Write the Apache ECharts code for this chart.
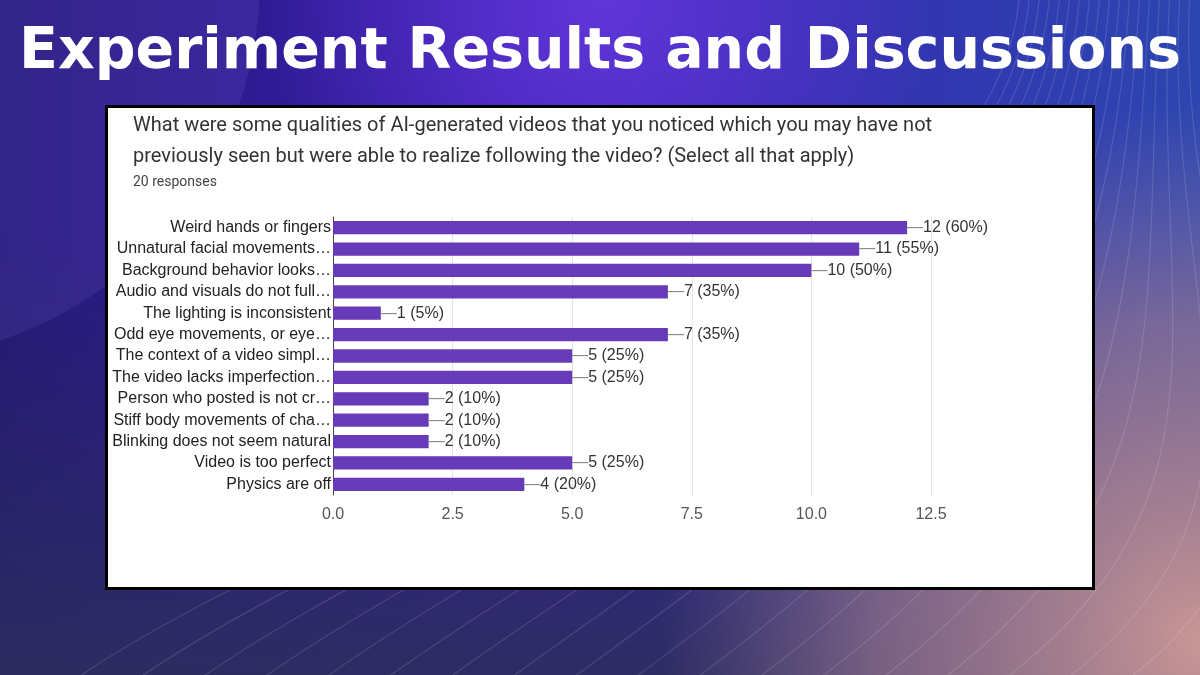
<!DOCTYPE html>
<html>
<head>
<meta charset="utf-8">
<script src="https://cdn.jsdelivr.net/npm/echarts@6/dist/echarts.min.js"></script>
<style>
  html, body { margin: 0; padding: 0; background: #2a1f88; }
  #main { width: 1200px; height: 675px; }
</style>
</head>
<body>
<div id="main"></div>
<script>
// survey answers (labels are cut off like in the form export)
const categories = [
  'Weird hands or fingers',
  'Unnatural facial movements…',
  'Background behavior looks…',
  'Audio and visuals do not full…',
  'The lighting is inconsistent',
  'Odd eye movements, or eye…',
  'The context of a video simpl…',
  'The video lacks imperfection…',
  'Person who posted is not cr…',
  'Stiff body movements of cha…',
  'Blinking does not seem natural',
  'Video is too perfect',
  'Physics are off'
]
const counts = [12, 11, 10, 7, 1, 7, 5, 5, 2, 2, 2, 5, 4]
const percents = [60, 55, 50, 35, 5, 35, 25, 25, 10, 10, 10, 25, 20]
const xTicks = [0, 2.5, 5, 7.5, 10, 12.5]

const slideTitle = 'Experiment Results and Discussions'
const questionLines = [
  'What were some qualities of AI-generated videos that you noticed which you may have not',
  'previously seen but were able to realize following the video? (Select all that apply)'
]
const responsesText = '20 responses'

let myChart = echarts.init(document.getElementById('main'), null, {renderer: 'canvas'})

// decorative wavy lines in the background
const waves = []
for (let i = 0; i < 18; i++) {
  const sx = 60 + i * 62
  waves.push({
    type: 'bezierCurve',
    z: -8,
    silent: true,
    shape: {
      x1: sx, y1: 690,
      cpx1: sx + 260, cpy1: 500,
      cpx2: 1000 + i * 10, cpy2: 320,
      x2: 1020 + i * 10, y2: -10
    },
    style: {stroke: 'rgba(255,255,255,0.13)', lineWidth: 1.2, fill: null}
  })
}

let option = {
  animation: false,
  graphic: [
    {
      type: 'rect', z: -10, silent: true,
      shape: {x: 0, y: 0, width: 1200, height: 675},
      style: {
        fill: {
          type: 'linear', x: 0, y: 0, x2: 1, y2: 0,
          colorStops: [
            {offset: 0, color: '#24187a'},
            {offset: 0.45, color: '#3a1fb0'},
            {offset: 1, color: '#2c46b0'}
          ]
        }
      }
    },
    {
      type: 'rect', z: -9, silent: true,
      shape: {x: 0, y: 0, width: 1200, height: 675},
      style: {
        fill: {
          type: 'radial', x: 0.5, y: 0.0, r: 0.5,
          colorStops: [
            {offset: 0, color: 'rgba(110,60,230,0.75)'},
            {offset: 1, color: 'rgba(110,60,230,0)'}
          ]
        }
      }
    },
    {
      type: 'rect', z: -9, silent: true,
      shape: {x: 0, y: 0, width: 1200, height: 675},
      style: {
        fill: {
          type: 'linear', x: 0, y: 0.35, x2: 0, y2: 1,
          colorStops: [
            {offset: 0, color: 'rgba(40,40,90,0)'},
            {offset: 1, color: 'rgba(45,45,95,0.95)'}
          ]
        }
      }
    },
    {
      type: 'rect', z: -9, silent: true,
      shape: {x: 0, y: 0, width: 1200, height: 675},
      style: {
        fill: {
          type: 'radial', x: 1.0, y: 0.95, r: 0.8,
          colorStops: [
            {offset: 0, color: 'rgba(200,150,150,1)'},
            {offset: 0.6, color: 'rgba(170,130,150,0.6)'},
            {offset: 1, color: 'rgba(150,120,150,0)'}
          ]
        }
      }
    },
    {
      type: 'circle', z: -8, silent: true,
      shape: {cx: -120, cy: -20, r: 380},
      style: {fill: 'rgba(140,110,230,0.14)'}
    },
    ...waves,
    {
      type: 'text', z: 5,
      style: {
        text: slideTitle, x: 600, y: 53, align: 'center', verticalAlign: 'middle',
        fill: '#ffffff', font: 'bold 57px "DejaVu Sans"'
      }
    },
    {
      type: 'rect', z: -1,
      shape: {x: 106.5, y: 106.5, width: 987, height: 482},
      style: {fill: '#ffffff', stroke: '#000000', lineWidth: 3}
    },
    {
      type: 'text', z: 5,
      style: {
        text: questionLines[0], x: 133, y: 126, verticalAlign: 'middle',
        fill: '#333333', font: '20px Roboto'
      }
    },
    {
      type: 'text', z: 5,
      style: {
        text: questionLines[1], x: 133, y: 157, verticalAlign: 'middle',
        fill: '#333333', font: '20px Roboto'
      }
    },
    {
      type: 'text', z: 5,
      style: {
        text: responsesText, x: 133, y: 182, verticalAlign: 'middle',
        fill: '#444444', font: '14px Roboto'
      }
    }
  ],
  grid: {
    left: 333,
    right: 269,
    top: 217,
    bottom: 180
  },
  xAxis: {
    type: 'value',
    min: 0,
    max: 12.5,
    interval: 2.5,
    axisLine: {show: false},
    axisTick: {show: false},
    splitLine: {lineStyle: {color: '#e3e3e3'}},
    axisLabel: {
      color: '#555',
      fontSize: 16,
      fontFamily: 'Liberation Sans',
      margin: 12,
      formatter: v => xTicks.indexOf(v) >= 0 ? v.toFixed(1) : ''
    }
  },
  yAxis: {
    type: 'category',
    inverse: true,
    data: categories,
    axisLine: {show: true, lineStyle: {color: '#444', width: 1}},
    axisTick: {show: false},
    axisLabel: {
      color: '#222',
      fontSize: 16,
      fontFamily: 'Liberation Sans',
      margin: 2
    }
  },
  series: [
    {
      type: 'bar',
      data: counts,
      barCategoryGap: '38%',
      itemStyle: {color: '#673ab7'},
      label: {
        show: true,
        position: 'right',
        distance: 0,
        fontSize: 16,
        fontFamily: 'Liberation Sans',
        color: '#333',
        formatter: p => '{d|—}' + p.value + ' (' + percents[p.dataIndex] + '%)',
        rich: {
          d: {color: '#888', fontSize: 16, fontFamily: 'Liberation Sans'}
        }
      }
    }
  ]
}

myChart.setOption(option)
</script>
</body>
</html>
